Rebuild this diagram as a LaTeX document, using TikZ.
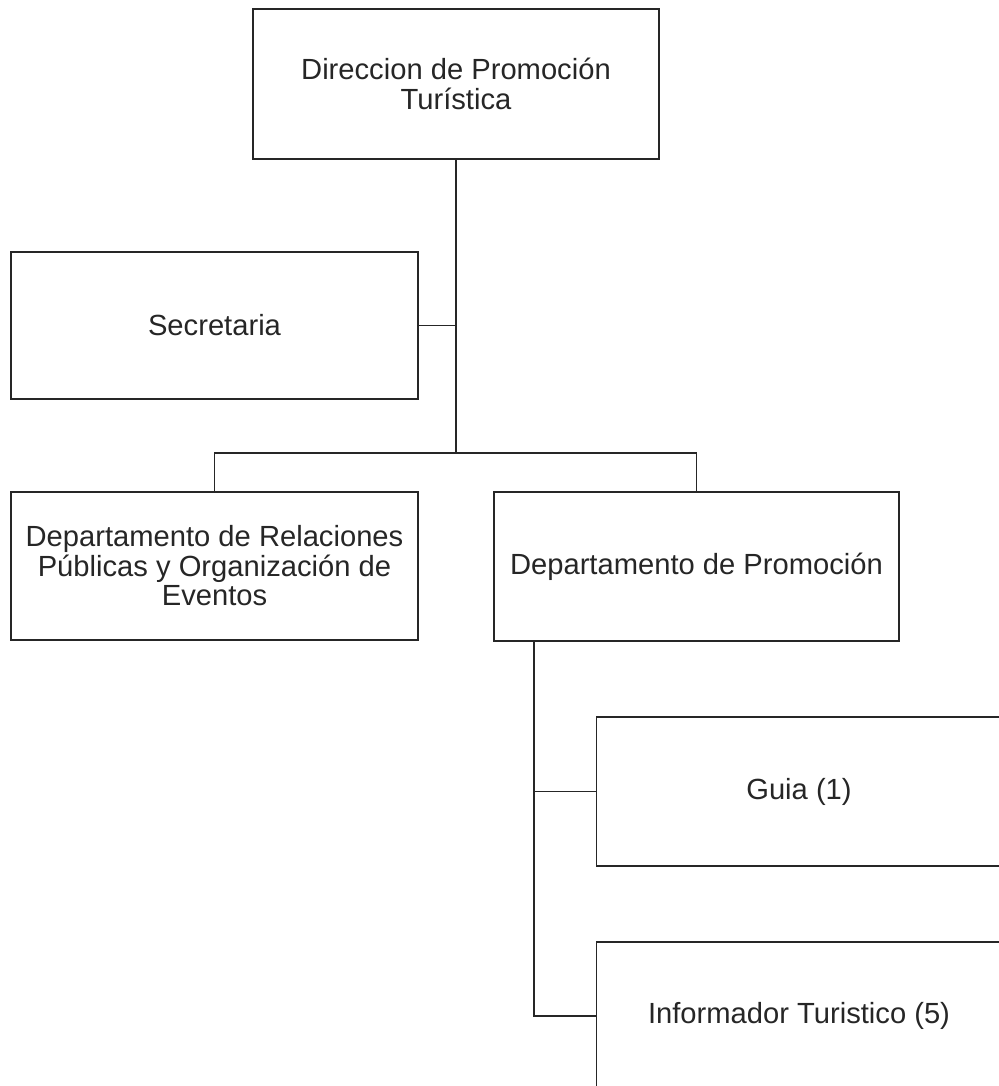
\documentclass[tikz,border=0pt]{standalone}
\usepackage{fontspec}
\setmainfont{Liberation Sans}
\begin{document}
\begin{tikzpicture}[x=0.02cm,y=-0.02cm,
  box/.style={draw=black!85,line width=1pt,rectangle,inner sep=0pt,outer sep=0pt,
    minimum width=8.14cm,minimum height=2.96cm,align=center,
    font=\fontsize{16.6}{16.8}\selectfont,text=black!85},
  link/.style={draw=black!85,line width=1pt}]
\useasboundingbox (0,0) rectangle (999,1086);
\node[box,minimum width=8.12cm,minimum height=3.0cm] (top) at (456,84) {Direccion de Promoción\\Turística};
\node[box,minimum height=2.94cm] (sec) at (214.5,325.5) {Secretaria};
\node[box] (rel) at (214.5,566) {Departamento de Relaciones\\Públicas y Organización de\\Eventos};
\node[box,minimum width=8.10cm,minimum height=2.98cm] (prom) at (696.5,566.5) {Departamento de Promoción};
\node[box,minimum width=8.1cm,minimum height=2.98cm] (guia) at (799,791.5) {Guia (1)};
\node[box,minimum width=8.1cm] (info) at (799,1016) {Informador Turistico (5)};
\coordinate (bus) at (456,453);
\coordinate (pb) at (534,641);
\draw[link] (top.south) -- (bus);
\draw[link] (sec.east) -- (sec.east -| top.south);
\draw[link] (rel.north) |- (bus) -| (prom.north);
\draw[link] (pb) |- (info.west);
\draw[link] (guia.west) -- (guia.west -| pb);
\end{tikzpicture}
\end{document}
